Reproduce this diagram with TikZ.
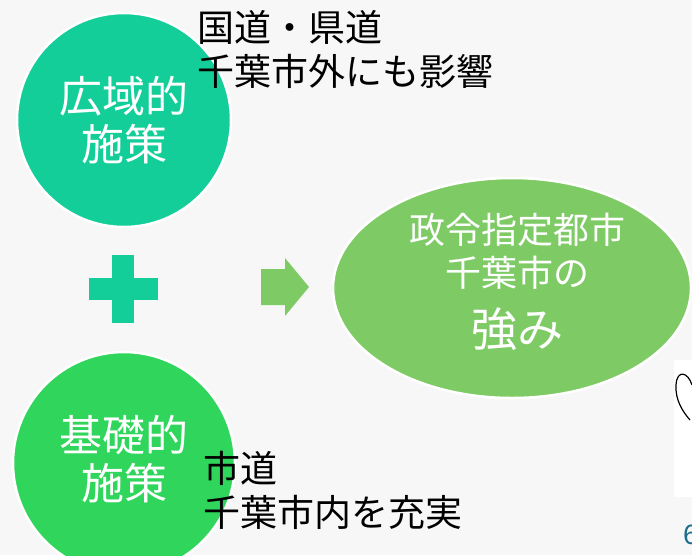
\documentclass[tikz,border=0pt]{standalone}
\usepackage{fontspec}
\setmainfont{Liberation Sans}
\newfontfamily\jpfont{Noto Sans CJK JP}
\usepackage{tikz}
\usetikzlibrary{positioning, shapes.geometric, calc}
\definecolor{tealc}{HTML}{13CE99}
\definecolor{greenc}{HTML}{30D65B}
\definecolor{leafc}{HTML}{7ECB66}
\definecolor{pagec}{HTML}{1C6E8C}
\definecolor{paperc}{HTML}{F7F7F7}

\begin{document}
\begin{tikzpicture}[x=1pt,y=-1pt,
  bubble/.style={circle, draw=white, line width=2.5pt, inner sep=0pt, text=white,
    align=center, font=\jpfont\fontsize{43}{48}\selectfont},
  note/.style={anchor=base west, align=left, inner sep=0pt,
    font=\jpfont\fontsize{37}{44}\selectfont}]
\useasboundingbox (0,0) rectangle (692,555);
\fill[paperc] (0,0) rectangle (692,555);

% two kinds of measures
\node[bubble, fill=tealc, minimum size=214pt] (wide) at (124,120) {広域的\\施策};
\node[bubble, fill=greenc, minimum size=222pt] (basic) at (124,463) {};
\node[text=white, align=center, inner sep=0pt,
  font=\jpfont\fontsize{43}{48}\selectfont] at ($(basic)+(0,-4)$) {基礎的\\施策};

% plus sign
\coordinate (plus) at (123.5,289);
\fill[tealc] ($(plus)+(-11.5,-34)$) rectangle ($(plus)+(10.5,34)$);
\fill[tealc] ($(plus)+(-34.5,-11)$) rectangle ($(plus)+(34.5,11)$);

% arrow
\coordinate (arr) at (261,287);
\fill[leafc] ($(arr)+(0,-18)$) -- ($(arr)+(24,-18)$) -- ($(arr)+(24,-29)$)
  -- ($(arr)+(48,0)$) -- ($(arr)+(24,29)$) -- ($(arr)+(24,18)$)
  -- ($(arr)+(0,18)$) -- cycle;

% result
\node[ellipse, fill=leafc, draw=white, line width=2.5pt, minimum width=358pt,
  minimum height=220pt, inner sep=0pt] (strength) at (512,288) {};
\node[text=white, align=center, inner sep=0pt,
  font=\jpfont\fontsize{36}{43}\selectfont] (strtext) at (517,282)
  {政令指定都市\\千葉市の\\[17pt]{\fontsize{46}{52}\selectfont 強み}};

% side notes
\node[note] (far) at (197,85) {国道・県道\\千葉市外にも影響};
\node[note] (near) at (203,526) {市道\\千葉市内を充実};

% cut-off bits at the right edge
\fill[white] (674,360) rectangle (692,497);
\draw[line width=1.2pt] (692,385) .. controls (688,372) and (677,369) .. (676,385)
  .. controls (675,400) and (683,412) .. (690,420);
\node[anchor=base west, inner sep=0pt, text=pagec,
  font=\fontsize{28}{28}\selectfont] (page) at (683,544) {6};
\end{tikzpicture}
\end{document}
